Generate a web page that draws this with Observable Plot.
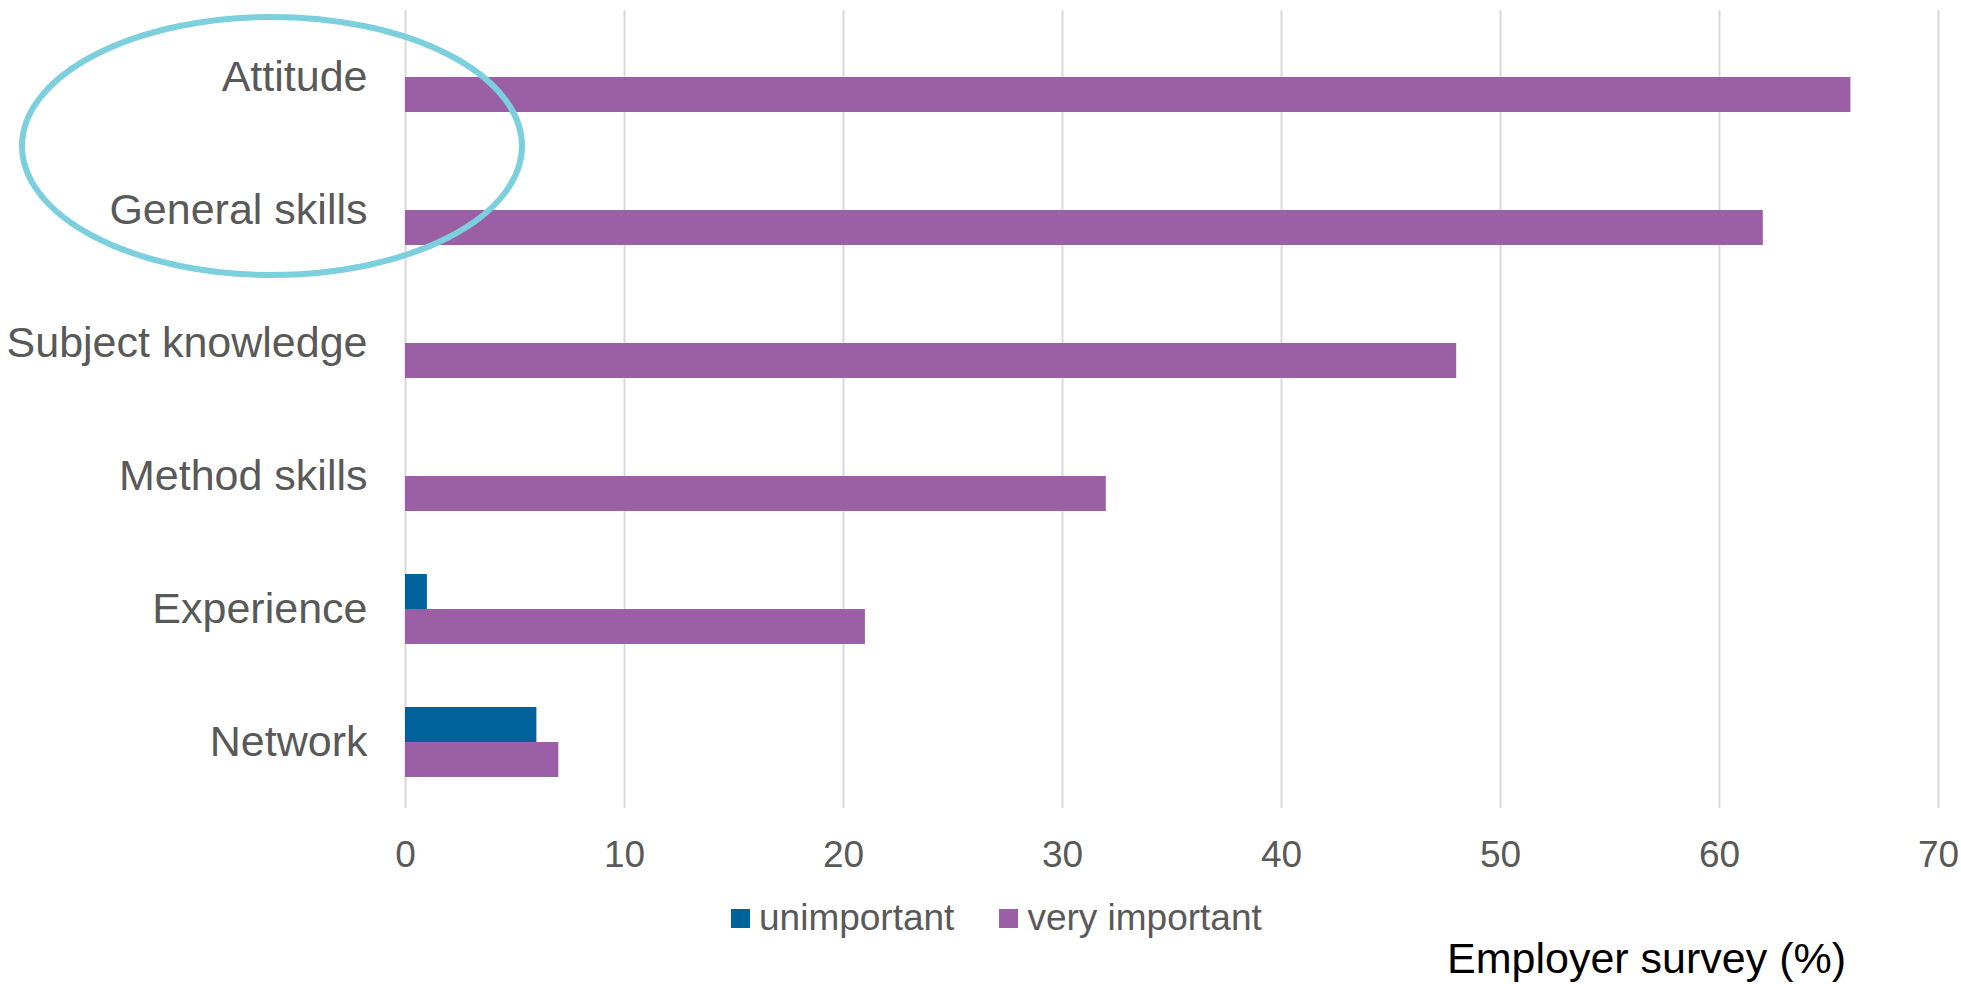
<!DOCTYPE html>
<html>
<head>
<meta charset="utf-8">
<script src="https://cdn.jsdelivr.net/npm/d3@7"></script>
<script src="https://cdn.jsdelivr.net/npm/@observablehq/plot@0.6"></script>
<style>
  html, body { margin: 0; padding: 0; background: #fff; }
  #wrap { position: relative; width: 1961px; height: 984px; font-family: "Liberation Sans", Arial, sans-serif; overflow: hidden; }
  #chart { position: absolute; left: 0; top: 0; }
  #legend { position: absolute; left: 731px; top: 897px; display: flex; align-items: center; font-size: 37px; color: #595959; white-space: nowrap; }
  .item { display: flex; align-items: center; margin-right: 45px; }
  .sw { width: 19px; height: 19px; margin-right: 9px; }
  #caption { position: absolute; left: 1447px; top: 937px; font-size: 43px; line-height: 1; color: #000; white-space: nowrap; }
  #overlay { position: absolute; left: 0; top: 0; pointer-events: none; }
</style>
</head>
<body>
<div id="wrap">
  <div id="chart"></div>
  <div id="legend"></div>
  <div id="caption"></div>
  <svg id="overlay" width="1961" height="984"><ellipse cx="272" cy="146" rx="250" ry="129" fill="none" stroke="#7ccfdc" stroke-width="6"></ellipse></svg>
</div>
<script>
const categories = ["Attitude", "General skills", "Subject knowledge", "Method skills", "Experience", "Network"];
const seriesNames = ["unimportant", "very important"];
const unimportant = [0, 0, 0, 0, 1, 6];
const veryImportant = [66, 62, 48, 32, 21, 7];
const xTicks = [0, 10, 20, 30, 40, 50, 60, 70];
const colors = ["#00629b", "#9b5fa6"];
const captionText = "Employer survey (%)";

const data = [];
categories.forEach((c, i) => {
  data.push({category: c, series: seriesNames[0], value: unimportant[i]});
  data.push({category: c, series: seriesNames[1], value: veryImportant[i]});
});

const chart = Plot.plot({
  width: 1961,
  height: 880,
  marginLeft: 405,
  marginRight: 23,
  marginTop: 10,
  marginBottom: 72,
  style: {fontFamily: "Liberation Sans, Arial, sans-serif", color: "#595959", background: "#fff"},
  x: {domain: [0, 70]},
  fy: {domain: categories, paddingInner: 0, paddingOuter: 0},
  y: {domain: seriesNames, paddingInner: 0, paddingOuter: 0.9},
  color: {domain: seriesNames, range: colors},
  marks: [
    Plot.gridX(xTicks, {stroke: "#d9d9d9", strokeOpacity: 1, strokeWidth: 2}),
    Plot.barX(data, {fy: "category", y: "series", x: "value", fill: "series"}),
    Plot.axisX(xTicks, {tickSize: 0, tickPadding: 32, fontSize: 37, label: null, fill: "#595959"}),
    Plot.axisY([], {label: null}),
    Plot.axisFy({anchor: "left", tickSize: 0, tickPadding: 38, fontSize: 43, label: null, fill: "#595959"})
  ]
});
document.getElementById("chart").appendChild(chart);

const legend = document.getElementById("legend");
seriesNames.forEach((s, i) => {
  const item = document.createElement("div");
  item.className = "item";
  const sw = document.createElement("div");
  sw.className = "sw";
  sw.style.background = colors[i];
  const t = document.createElement("span");
  t.textContent = s;
  item.appendChild(sw);
  item.appendChild(t);
  legend.appendChild(item);
});
document.getElementById("caption").textContent = captionText;
</script>
</body>
</html>
